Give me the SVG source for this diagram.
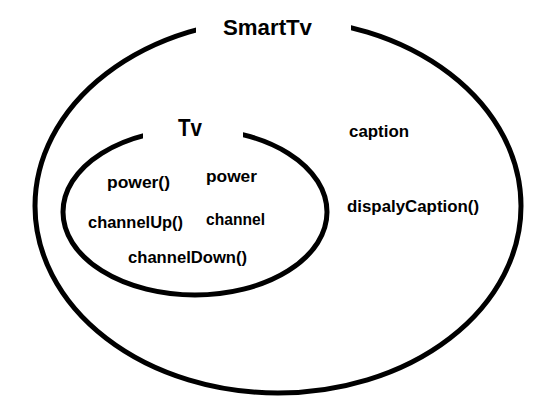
<svg xmlns="http://www.w3.org/2000/svg" width="549" height="407" viewBox="0 0 549 407">
<style>
.ring{fill:none;stroke:#000;stroke-width:5}
.gap{fill:#fff;stroke:none}
.t{font-family:"Liberation Sans",Arial,sans-serif;font-weight:bold;fill:#000}
.s{font-size:16px}
</style>
<rect width="549" height="407" fill="#fff"/>
<g id="SmartTv">
<ellipse class="ring" cx="278" cy="206" rx="243" ry="187"/>
<rect class="gap" x="196" y="5" width="155" height="40"/>
<text class="t" x="223" y="35" font-size="22" textLength="89" lengthAdjust="spacingAndGlyphs">SmartTv</text>
<text class="t s" x="349" y="137" textLength="60" lengthAdjust="spacingAndGlyphs">caption</text>
<text class="t s" x="347" y="212" textLength="132" lengthAdjust="spacingAndGlyphs">dispalyCaption()</text>
</g>
<g id="Tv">
<ellipse class="ring" cx="195" cy="212" rx="132" ry="83"/>
<rect class="gap" x="143" y="115" width="100" height="30"/>
<text class="t" x="178" y="136" font-size="23" textLength="24" lengthAdjust="spacingAndGlyphs">Tv</text>
<text class="t s" x="107" y="188" textLength="63" lengthAdjust="spacingAndGlyphs">power()</text>
<text class="t s" x="206" y="182" textLength="51" lengthAdjust="spacingAndGlyphs">power</text>
<text class="t s" x="88" y="228" textLength="95" lengthAdjust="spacingAndGlyphs">channelUp()</text>
<text class="t s" x="206" y="225" textLength="59" lengthAdjust="spacingAndGlyphs">channel</text>
<text class="t s" x="128" y="263" textLength="119" lengthAdjust="spacingAndGlyphs">channelDown()</text>
</g>
<g id="connectors"/>
</svg>
